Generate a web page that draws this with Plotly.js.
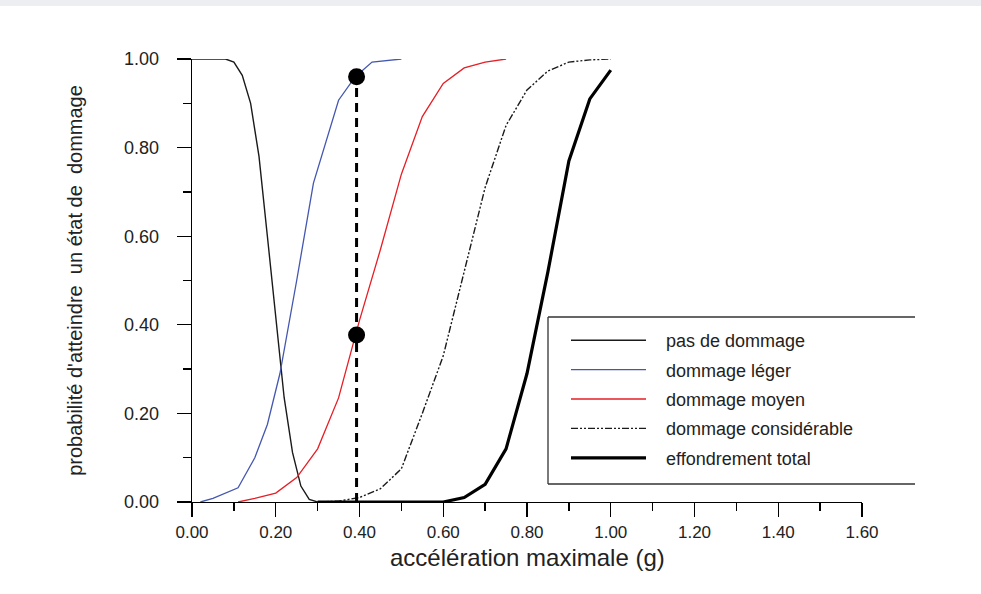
<!DOCTYPE html>
<html>
<head>
<meta charset="utf-8">
<script src="https://cdn.plot.ly/plotly-3.0.1.min.js"></script>
<style>
  html, body { margin: 0; padding: 0; }
  body { width: 981px; height: 594px; background: linear-gradient(#eceef1 0px, #eceef1 6px, #ffffff 6px); }
  #chart { width: 981px; height: 594px; }
</style>
</head>
<body>
<div id="chart"></div>
<script>
// ---- data ----
const xNone = [0, 0.05, 0.08, 0.10, 0.12, 0.14, 0.16, 0.18, 0.20, 0.22, 0.24, 0.26, 0.28, 0.30, 0.35, 0.40];
const yNone = [1.0, 1.0, 1.0, 0.993, 0.963, 0.90, 0.78, 0.60, 0.41, 0.236, 0.112, 0.036, 0.006, 0.0, 0.0, 0.0];

const xLight = [0.02, 0.05, 0.11, 0.15, 0.18, 0.21, 0.25, 0.29, 0.35, 0.39, 0.43, 0.50];
const yLight = [0.0, 0.008, 0.032, 0.10, 0.175, 0.29, 0.50, 0.72, 0.907, 0.96, 0.993, 1.0];

const xModerate = [0.11, 0.15, 0.20, 0.25, 0.30, 0.35, 0.40, 0.45, 0.50, 0.55, 0.60, 0.65, 0.70, 0.75];
const yModerate = [0.0, 0.008, 0.02, 0.055, 0.12, 0.235, 0.41, 0.57, 0.74, 0.87, 0.945, 0.98, 0.993, 1.0];

const xExtensive = [0.30, 0.35, 0.40, 0.45, 0.50, 0.55, 0.60, 0.65, 0.70, 0.75, 0.80, 0.85, 0.90, 0.95, 1.00];
const yExtensive = [0.0, 0.002, 0.01, 0.03, 0.075, 0.20, 0.33, 0.52, 0.71, 0.85, 0.93, 0.973, 0.993, 0.998, 1.0];

const xCollapse = [0.30, 0.40, 0.50, 0.60, 0.65, 0.70, 0.75, 0.80, 0.85, 0.90, 0.95, 1.00];
const yCollapse = [0.0, 0.0, 0.0, 0.0, 0.01, 0.04, 0.12, 0.29, 0.52, 0.77, 0.91, 0.975];

const markX = [0.393, 0.393];
const markY = [0.96, 0.377];
const guideY = [0, 0.96];

const seriesNames = ["pas de dommage", "dommage léger", "dommage moyen", "dommage considérable", "effondrement total"];
const xTicks = [0, 0.2, 0.4, 0.6, 0.8, 1.0, 1.2, 1.4, 1.6];
const yTicks = [0, 0.2, 0.4, 0.6, 0.8, 1.0];
const xTitle = "accélération maximale (g)";
const yTitle = "probabilité d'atteindre\u00a0 un état de\u00a0 dommage";

// ---- styling ----
const FONT = "'Liberation Sans', Arial, sans-serif";
const pad = "\u00a0\u00a0\u00a0";

const traces = [
  { x: xNone, y: yNone, name: pad + seriesNames[0], legendgroup: "g1", mode: "lines",
    line: { color: "#1a1a1a", width: 1.4 } },
  { x: xLight, y: yLight, name: pad + seriesNames[1], legendgroup: "g2", mode: "lines",
    line: { color: "#4457b0", width: 1.3 } },
  { x: xModerate, y: yModerate, name: pad + seriesNames[2], legendgroup: "g3", mode: "lines",
    line: { color: "#e61e25", width: 1.3 } },
  { x: xExtensive, y: yExtensive, name: pad + seriesNames[3], legendgroup: "g4", mode: "lines",
    line: { color: "#1a1a1a", width: 1.4, dash: "7px,2px,2px,2px,2px,2px" } },
  { x: xCollapse, y: yCollapse, name: pad + seriesNames[4], legendgroup: "g5", mode: "lines",
    line: { color: "#000000", width: 3.2 } },
  { x: markX, y: guideY, mode: "lines", showlegend: false, hoverinfo: "skip",
    line: { color: "#000000", width: 3, dash: "9px,6px" } },
  { x: markX, y: markY, mode: "markers", showlegend: false,
    marker: { color: "#000000", size: 17 } }
];

// pixel helpers for the legend frame (plot area: x 192..862, y 59..502)
const px = v => (v - 192) / 670;
const py = v => (502 - v) / 443;
const frame = { color: "#333333", width: 1.3 };

const layout = {
  width: 981, height: 594,
  margin: { l: 192, r: 119, t: 59, b: 92 },
  paper_bgcolor: "rgba(0,0,0,0)",
  plot_bgcolor: "rgba(0,0,0,0)",
  font: { family: FONT, color: "#222222" },
  showlegend: true,
  legend: {
    x: px(566), y: py(322), xanchor: "left", yanchor: "top",
    bgcolor: "rgba(0,0,0,0)", borderwidth: 0,
    font: { family: FONT, size: 18, color: "#222222" },
    itemwidth: 75, tracegroupgap: 3, traceorder: "grouped"
  },
  xaxis: {
    range: [0, 1.6], tickvals: xTicks, tickformat: ".2f",
    showline: true, linecolor: "#000000", linewidth: 1.3,
    ticks: "outside", ticklen: 14, tickwidth: 1.3, tickcolor: "#000000",
    minor: { dtick: 0.1, tick0: 0, ticks: "outside", ticklen: 8, tickwidth: 1.3, tickcolor: "#000000" },
    showgrid: false, zeroline: false,
    tickfont: { family: FONT, size: 17, color: "#222222" }
  },
  yaxis: {
    range: [0, 1.0], tickvals: yTicks, tickformat: ".2f",
    showline: true, linecolor: "#000000", linewidth: 1.3,
    ticks: "outside", ticklen: 14, tickwidth: 1.3, tickcolor: "#000000",
    minor: { dtick: 0.1, tick0: 0, ticks: "outside", ticklen: 8, tickwidth: 1.3, tickcolor: "#000000" },
    ticklabelstandoff: 14,
    showgrid: false, zeroline: false, automargin: true,
    tickfont: { family: FONT, size: 18, color: "#222222" },
    title: { text: yTitle, font: { family: FONT, size: 20, color: "#222222" }, standoff: 36 }
  },
  annotations: [
    { text: xTitle, xref: "paper", yref: "paper", x: 0.5, y: 0, xanchor: "center", yanchor: "top",
      yshift: -40, showarrow: false, font: { family: FONT, size: 24, color: "#222222" } }
  ],
  shapes: [
    { type: "line", xref: "paper", yref: "paper", x0: px(548), x1: px(548), y0: py(317), y1: py(484), line: frame },
    { type: "line", xref: "paper", yref: "paper", x0: px(548), x1: px(915), y0: py(317), y1: py(317), line: frame },
    { type: "line", xref: "paper", yref: "paper", x0: px(548), x1: px(915), y0: py(484), y1: py(484), line: frame }
  ]
};

Plotly.newPlot("chart", traces, layout, { displayModeBar: false, staticPlot: true });
</script>
</body>
</html>
